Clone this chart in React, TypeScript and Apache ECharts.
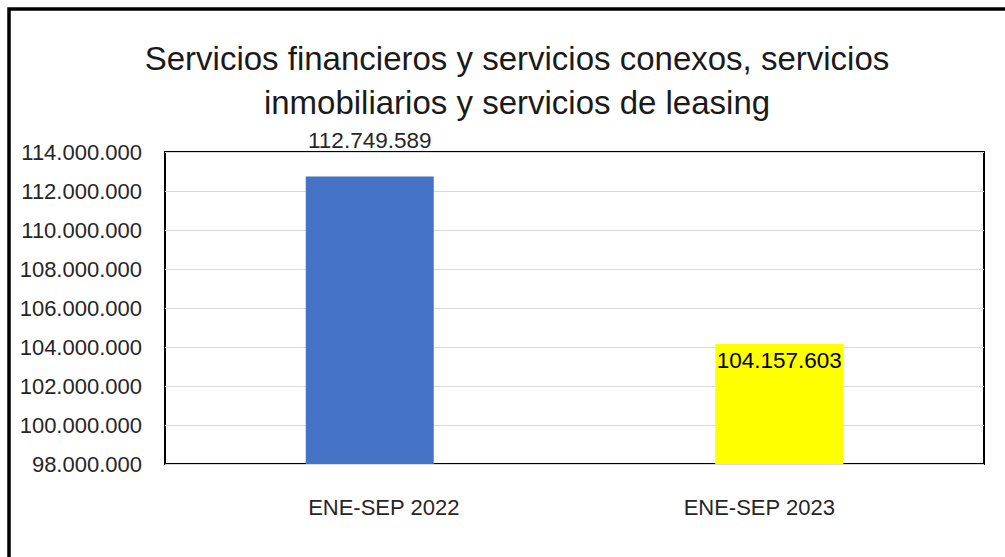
import React, { useEffect, useRef } from "react";
import * as echarts from "echarts";

const titleLines = [
  "Servicios financieros y servicios conexos, servicios",
  "inmobiliarios y servicios de leasing",
];
const categories = ["ENE-SEP 2022", "ENE-SEP 2023"];
const values = [112749589, 104157603];
const barColors = ["#4472C4", "#FFFF00"];
const yMin = 98000000;
const yMax = 114000000;
const yStep = 2000000;

const fmt = (v: number) =>
  Math.round(v)
    .toString()
    .replace(/\B(?=(\d{3})+(?!\d))/g, ".");

const FONT = "Liberation Sans";

export default function App() {
  const ref = useRef<HTMLDivElement>(null);
  useEffect(() => {
    if (!ref.current) return;
    const chart = echarts.init(ref.current, null, { renderer: "svg" });
    chart.setOption({
      animation: false,
      backgroundColor: "#ffffff",
      title: {
        text: titleLines.join("\n"),
        left: 512,
        top: 31,
        textAlign: "center",
        textStyle: {
          fontFamily: FONT,
          fontSize: 33,
          fontWeight: "normal",
          color: "#1a1a1a",
          lineHeight: 44,
        },
      },
      graphic: [
        {
          type: "rect",
          shape: { x: 9, y: 9, width: 1200, height: 800 },
          style: { fill: "none", stroke: "#000", lineWidth: 3.5 },
          silent: true,
        },
      ],
      grid: {
        left: 165,
        top: 152,
        right: 21,
        bottom: 93,
        show: true,
        borderColor: "#000",
        borderWidth: 2,
        backgroundColor: "transparent",
      },
      xAxis: {
        type: "category",
        data: categories,
        axisLine: { show: false },
        axisTick: { show: false },
        axisLabel: {
          margin: 32,
          fontFamily: FONT,
          fontSize: 22,
          color: "#262626",
          formatter: (v: string, i: number) =>
            i === 0 ? `{a|${v}}` : `{b|${v}}`,
          rich: {
            a: { fontFamily: FONT, fontSize: 22, color: "#262626", padding: [0, 0, 0, 28] },
            b: { fontFamily: FONT, fontSize: 22, color: "#262626", padding: [0, 40, 0, 0] },
          },
        },
      },
      yAxis: {
        type: "value",
        min: yMin,
        max: yMax,
        interval: yStep,
        axisLine: { show: false },
        axisTick: { show: false },
        splitLine: { show: true, lineStyle: { color: "#d9d9d9", width: 1 } },
        axisLabel: {
          margin: 23,
          fontFamily: FONT,
          fontSize: 22,
          color: "#262626",
          formatter: (v: number) => fmt(v),
        },
      },
      series: [
        {
          type: "bar",
          barWidth: 128,
          data: values.map((v, i) => ({
            value: v,
            itemStyle: { color: barColors[i] },
            label:
              i === 0
                ? { show: true, position: "top", distance: 24, color: "#262626" }
                : { show: true, position: "insideTop", distance: 5, color: "#000" },
          })),
          label: {
            show: true,
            fontFamily: FONT,
            fontSize: 22.5,
            formatter: (p: any) => fmt(p.value),
          },
        },
      ],
    });
    return () => chart.dispose();
  }, []);
  return (
    <div
      ref={ref}
      style={{ position: "fixed", left: 0, top: 0, width: 1005, height: 557 }}
    />
  );
}
